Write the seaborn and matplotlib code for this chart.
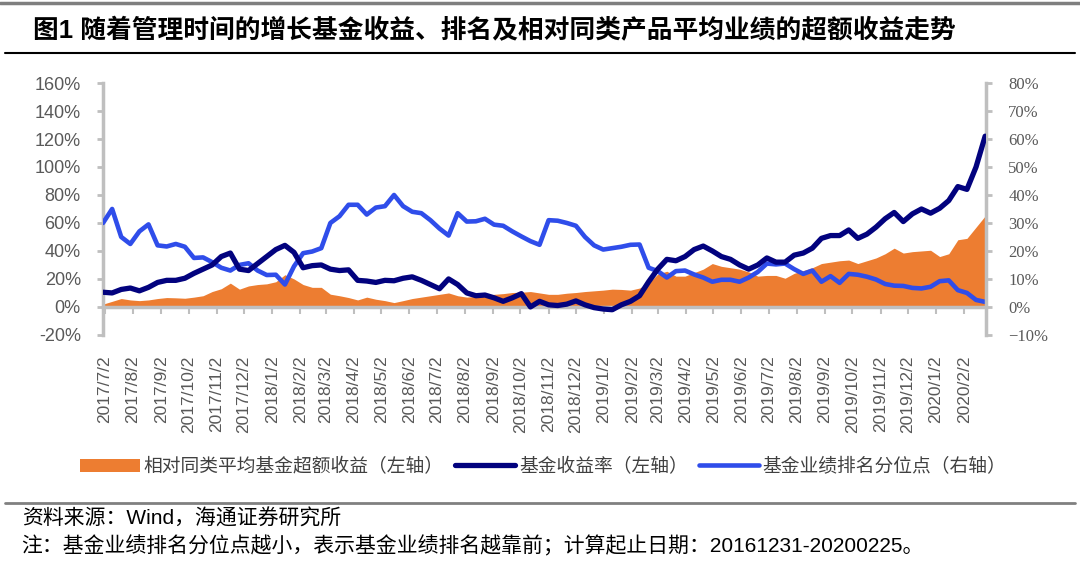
import numpy as np
import pandas as pd
import seaborn as sns
import matplotlib.pyplot as plt
from matplotlib.lines import Line2D
from matplotlib.ticker import FixedLocator, FixedFormatter, FuncFormatter
import matplotlib.dates as mdates

# 日期（约每10天一个点）
dates = pd.date_range("2017-06-30", periods=98, freq="10D")

# 相对同类平均基金超额收益（左轴, %）
excess = [2, 4, 6, 5, 4.5, 5, 6, 6.7, 6.5, 6.2,
          7, 8, 11, 13, 17, 12.7, 15, 16, 16.5, 18,
          23, 20, 16, 14, 14, 9.1, 8, 6.7, 5, 7,
          5.5, 4.5, 3.1, 4.5, 6, 7, 8, 9, 10, 8,
          7, 7.5, 8.5, 9, 9.5, 10.3, 10.5, 11, 10, 9,
          9, 9.8, 10.3, 11, 11.5, 12, 12.7, 12.5, 12, 13.5,
          17, 23.5, 25.5, 22, 22, 24.5, 27, 31, 29, 28,
          27, 25, 22, 22.5, 22.5, 20.5, 24, 26, 28, 31,
          32, 33, 33.5, 31, 33, 35, 38, 42, 38.5, 39.5,
          40, 40.5, 36, 38, 48, 49, 57, 65]

# 基金收益率（左轴, %）
fund_ret = [10.5, 10, 12.5, 13.5, 11.5, 14, 17.5, 19, 19, 20.5,
            24, 27, 30, 36, 38.5, 27, 26, 31, 36, 41,
            44, 39, 28, 29.5, 30, 27, 26, 26.5, 19, 18.5,
            17.5, 19, 18.7, 20.5, 21.5, 19, 16, 13, 20, 16,
            10, 8, 8.5, 6.5, 4, 6.5, 9.5, 0, 4, 1.5,
            1, 2, 4.3, 1.5, -0.5, -1.5, -2, 1.5, 4, 8,
            18, 27, 34, 33, 36, 41, 43.5, 40, 36, 34,
            30, 27, 30, 35, 32, 32, 37, 38.5, 42, 49,
            51, 51, 55, 49, 52, 57, 63, 67.5, 61, 66.5,
            70, 67, 70.5, 76, 86, 84, 100, 122]

# 基金业绩排名分位点（右轴, %）
rank_pct = [30, 35, 25, 22.5, 27, 29.5, 22, 21.6, 22.5, 21.5,
            17.5, 17.7, 16, 14, 13, 15, 15.6, 13, 11.4, 11.5,
            8, 14.5, 19.2, 19.8, 21, 30, 32.4, 36.5, 36.5, 33,
            35.5, 36, 40, 36, 34, 33.5, 31, 28, 25.5, 33.5,
            30.5, 30.6, 31.5, 29.4, 29, 27, 25.2, 23.5, 22.2, 31,
            30.8, 30, 29, 25, 22, 20.5, 21, 21.5, 22.2, 22.3,
            14, 12.8, 10.5, 12.8, 13, 11.6, 10.5, 9, 9.7, 9.7,
            9, 10.5, 12.5, 15.5, 15.2, 15.5, 13.5, 11.8, 13, 9,
            11, 8.6, 11.8, 11.5, 10.8, 9.8, 8.2, 7.6, 7.5, 6.8,
            6.6, 7.2, 9.2, 9.5, 6, 5, 2.5, 1.8]

tick_dates = pd.date_range("2017-07-02", periods=32, freq=pd.DateOffset(months=1))
tick_labels = [f"{d.year}/{d.month}/{d.day}" for d in tick_dates]

legend_names = ["相对同类平均基金超额收益（左轴）", "基金收益率（左轴）", "基金业绩排名分位点（右轴）"]

df = pd.DataFrame({"date": dates, "excess": excess, "fund": fund_ret, "rank": rank_pct})

#%%
sns.set_style("white")
plt.rcParams["font.family"] = ["Liberation Sans", "Noto Sans CJK SC"]
plt.rcParams["axes.unicode_minus"] = False

ORANGE = "#ED7D31"
NAVY = "#02027E"
BLUE = "#2F4DEA"
GRAY = "#BFBFBF"
TXT = "#595959"

fig = plt.figure(figsize=(10.8, 5.61), dpi=100)
ax = fig.add_axes([0.0954, 0.403, 0.8176, 0.449])
ax2 = ax.twinx()
ax3 = ax.twinx()

# 面积（左轴）
area = ax.fill_between(df["date"], 0, df["excess"], color=ORANGE, lw=0, label=legend_names[0])
# 排名分位点（右轴）
sns.lineplot(data=df, x="date", y="rank", ax=ax2, color=BLUE, lw=3.3, label=legend_names[2], legend=False)
# 基金收益率（左轴，最上层）
sns.lineplot(data=df, x="date", y="fund", ax=ax3, color=NAVY, lw=3.8, label=legend_names[1], legend=False)

xmin, xmax = pd.Timestamp("2017-06-30"), pd.Timestamp("2020-02-26")
for a in (ax, ax2, ax3):
    a.set_xlim(xmin, xmax)
    a.set_xlabel("")
    a.set_ylabel("")
ax.set_ylim(-20, 160)
ax3.set_ylim(-20, 160)
ax2.set_ylim(-10, 80)

# 左轴
ax.yaxis.set_major_locator(FixedLocator(np.arange(-20, 161, 20)))
ax.yaxis.set_major_formatter(FuncFormatter(lambda v, p: f"{v:.0f}%"))
ax.tick_params(axis="y", left=True, length=4, width=2, color=GRAY, pad=12, labelsize=13, labelcolor=TXT)

# 右轴
ax2.yaxis.set_major_locator(FixedLocator(np.arange(-10, 81, 10)))
ax2.yaxis.set_major_formatter(FuncFormatter(lambda v, p: f"{v:.0f}%".replace("-", "\u2212")))
ax2.tick_params(axis="y", right=True, length=4, width=2, color=GRAY, pad=12, labelsize=12, labelcolor=TXT)
for lab in ax2.get_yticklabels():
    lab.set_family("Liberation Serif")

# x轴
ax.xaxis.set_major_locator(FixedLocator(mdates.date2num(tick_dates.to_pydatetime())))
ax.xaxis.set_major_formatter(FixedFormatter(tick_labels))
ax.tick_params(axis="x", bottom=True, length=5, width=1.5, color=GRAY, pad=30,
               labelrotation=90, labelsize=12.5, labelcolor=TXT)
ax.spines["bottom"].set_position(("data", 0))

for s in ax.spines.values():
    s.set_visible(False)
for s in ax2.spines.values():
    s.set_visible(False)
for s in ax3.spines.values():
    s.set_visible(False)
ax.spines["left"].set_visible(True)
ax.spines["bottom"].set_visible(True)
ax2.spines["right"].set_visible(True)
for s in (ax.spines["left"], ax.spines["bottom"], ax2.spines["right"]):
    s.set_color(GRAY)
    s.set_linewidth(2.5)
ax3.set_yticks([])
ax3.tick_params(axis="both", which="both", length=0)
ax2.tick_params(axis="x", length=0)
ax.grid(False)
ax2.grid(False)
ax3.grid(False)

# 图例
handles = [area, ax3.get_lines()[0], ax2.get_lines()[0]]
fig.legend(handles, legend_names, loc="center", bbox_to_anchor=(0.503, 0.168), ncol=3,
           frameon=False, fontsize=13.5, handlelength=3.2, handletextpad=0.2, columnspacing=0.6,
           labelcolor="#404040")

# 标题与注释
fig.text(0.031, 0.946, "图1 随着管理时间的增长基金收益、排名及相对同类产品平均业绩的超额收益走势",
         fontsize=18.5, fontweight="bold", va="center", ha="left", color="black")
fig.add_artist(Line2D([0, 1], [0.995, 0.995], color="#7F7F7F", lw=2.5))
fig.add_artist(Line2D([0.005, 0.995], [0.906, 0.906], color="black", lw=1.5))
fig.add_artist(Line2D([0.005, 0.995], [0.103, 0.103], color="#808080", lw=2))
fig.text(0.02, 0.075, "资料来源：Wind，海通证券研究所", fontsize=15, va="center", ha="left", color="black")
fig.text(0.02, 0.027, "注：基金业绩排名分位点越小，表示基金业绩排名越靠前；计算起止日期：20161231-20200225。",
         fontsize=15, va="center", ha="left", color="black")

fig.savefig("out.png", dpi=100)
